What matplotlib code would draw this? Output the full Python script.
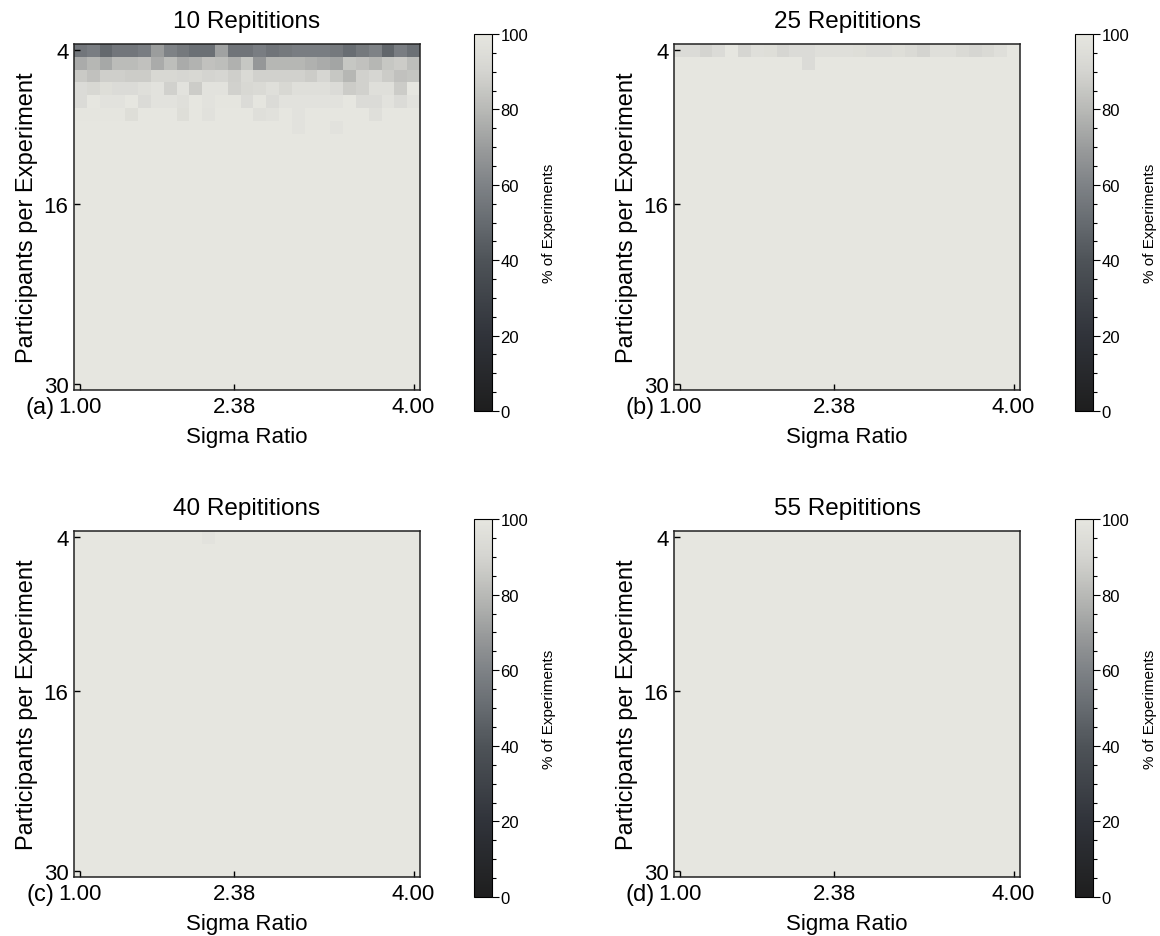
import numpy as np
import matplotlib
matplotlib.use("Agg")
import matplotlib.pyplot as plt
from matplotlib.colors import LinearSegmentedColormap
from matplotlib.ticker import MultipleLocator

plt.rcParams['font.family'] = ['Liberation Sans', 'DejaVu Sans']

# grid of the simulation
sigma_ratio = np.linspace(1.0, 4.0, 27)
participants = np.arange(4, 31)

titles = ['10 Repititions', '25 Repititions', '40 Repititions', '55 Repititions']
panel_tags = ['(a)', '(b)', '(c)', '(d)']

# % of experiments, rows start at 4 participants; rows not listed are 100
rep10_rows = [
    [55, 58, 49, 55, 55, 58, 70, 60, 56, 52, 52, 72, 54, 54, 58, 54, 56, 58, 58, 58, 56, 51, 56, 60, 48, 58, 52],
    [75, 79, 74, 81, 81, 83, 75, 82, 75, 78, 83, 82, 77, 85, 68, 79, 79, 79, 77, 75, 73, 85, 83, 79, 85, 87, 82],
    [86, 83, 88, 88, 87, 87, 92, 92, 91, 92, 90, 91, 88, 93, 89, 89, 89, 89, 87, 91, 85, 79, 89, 91, 87, 83, 84],
    [94, 92, 95, 94, 94, 96, 98, 89, 98, 87, 98, 98, 89, 92, 93, 96, 92, 96, 96, 96, 94, 87, 89, 96, 96, 87, 100],
    [94, 100, 98, 98, 100, 94, 98, 98, 96, 100, 98, 99, 99, 94, 99, 94, 98, 98, 98, 98, 98, 100, 94, 94, 98, 94, 98],
    [99, 99, 99, 99, 95, 100, 100, 100, 95, 100, 97, 100, 100, 100, 96, 97, 100, 98, 100, 100, 100, 100, 100, 96, 100, 100, 100],
    [100, 100, 100, 100, 100, 100, 100, 100, 100, 100, 100, 100, 100, 100, 100, 100, 100, 98, 100, 100, 98, 100, 100, 100, 100, 100, 100],
]
rep25_rows = [
    [94, 94, 90, 94, 100, 91, 96, 95, 91, 94, 94, 96, 96, 96, 95, 94, 94, 95, 93, 90, 96, 96, 93, 91, 93, 96, 100],
    [100, 100, 100, 100, 100, 100, 100, 100, 100, 100, 94, 100, 100, 100, 100, 100, 100, 100, 100, 100, 100, 100, 100, 100, 100, 100, 100],
]
rep40_rows = [
    [100, 100, 100, 100, 100, 100, 100, 100, 100, 100, 98, 100, 100, 100, 100, 100, 100, 100, 100, 100, 100, 100, 100, 100, 100, 100, 100],
]
rep55_rows = []


def full_grid(rows):
    grid = np.full((len(participants), len(sigma_ratio)), 100.0)
    for i, r in enumerate(rows):
        grid[i] = r
    return grid


grids = [full_grid(r) for r in [rep10_rows, rep25_rows, rep40_rows, rep55_rows]]

cmap = LinearSegmentedColormap.from_list('greys_warm', [
    (0.0, '#1e1e1e'), (0.2, '#30333a'), (0.4, '#4e5358'), (0.5, '#666b70'),
    (0.6, '#7e8286'), (0.7, '#9a9c9c'), (0.8, '#b8b9b6'), (0.9, '#d4d4d0'),
    (1.0, '#e6e6e0')])

fig = plt.figure(figsize=(11.6, 9.37), dpi=100)
W, H = 1160.0, 937.0

def px(l, t, r, b):
    return [l / W, 1 - b / H, (r - l) / W, (b - t) / H]

ax_boxes = [(74, 45, 420, 391), (674, 45, 1020, 391),
            (74, 532, 420, 878), (674, 532, 1020, 878)]
cb_boxes = [(474, 35, 492, 412), (1075, 35, 1093, 412),
            (474, 520, 492, 898), (1075, 520, 1093, 898)]

for k in range(4):
    ax = fig.add_axes(px(*ax_boxes[k]))
    cax = fig.add_axes(px(*cb_boxes[k]))
    mesh = ax.pcolormesh(np.arange(28), np.arange(28), grids[k],
                         cmap=cmap, vmin=0, vmax=100)
    ax.set_xlim(0, 27)
    ax.set_ylim(27, 0)
    xt = [0, 12, 26]
    ax.set_xticks([i + 0.5 for i in xt])
    ax.set_xticklabels(['%.2f' % sigma_ratio[i] for i in xt], fontsize=16)
    yt = [0, 12, 26]
    ax.set_yticks([i + 0.5 for i in yt])
    ax.set_yticklabels([str(participants[i]) for i in yt], fontsize=16)
    ax.tick_params(direction='in', length=4, width=1, pad=4)
    for s in ax.spines.values():
        s.set_linewidth(1.1)
        s.set_color('#222222')
    ax.set_title(titles[k], fontsize=17.5, pad=12)
    ax.set_xlabel('Sigma Ratio', fontsize=16, labelpad=7)
    ax.set_ylabel('Participants per Experiment', fontsize=17, labelpad=4)

    cb = fig.colorbar(mesh, cax=cax)
    cb.set_ticks([0, 20, 40, 60, 80, 100])
    cb.ax.yaxis.set_minor_locator(MultipleLocator(5))
    cb.ax.tick_params(which='major', length=5, width=0.8, labelsize=12, pad=1)
    cb.ax.tick_params(which='minor', length=3, width=0.8)
    cb.outline.set_linewidth(0.8)
    cb.set_label('% of Experiments', fontsize=11, labelpad=10)

    l, t, r, b = ax_boxes[k]
    fig.text((l - 34) / W, 1 - (b + 17) / H, panel_tags[k], fontsize=17,
             ha='center', va='center')

fig.savefig('out.png', dpi=100)
